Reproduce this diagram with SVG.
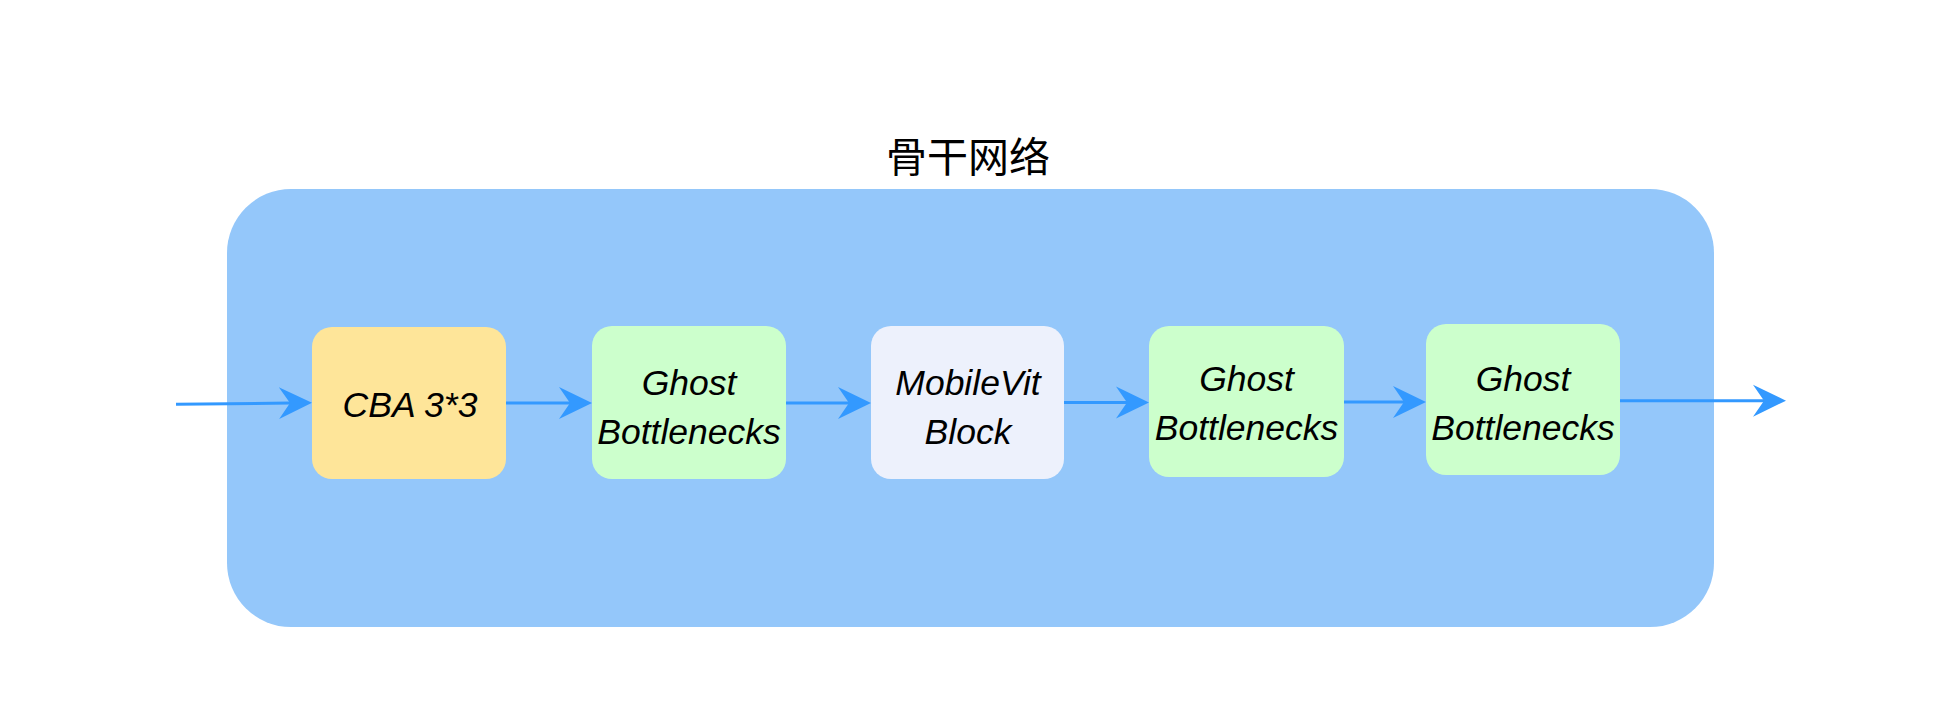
<svg xmlns="http://www.w3.org/2000/svg" width="1959" height="719" viewBox="0 0 1959 719">
  <style>
    .lbl { font-family: "Liberation Sans", Arial, Helvetica, sans-serif; font-style: italic; font-size: 35.5px; fill: #000000; text-anchor: middle; }
    .title { font-family: "Noto Sans CJK SC", "Noto Sans", sans-serif; font-size: 41px; fill: #000000; text-anchor: middle; }
    .conn { stroke: #3399FF; stroke-width: 3; fill: none; marker-end: url(#arrow); }
  </style>
  <defs>
    <marker id="arrow" markerUnits="userSpaceOnUse" markerWidth="34" markerHeight="34" refX="11" refY="16" orient="auto" overflow="visible">
      <path d="M0,0 L33,16 L0,32 L11,16 Z" fill="#3399FF"/>
    </marker>
  </defs>
  <rect width="1959" height="719" fill="#FFFFFF"/>

  <g id="backbone">
    <rect x="227" y="189" width="1487" height="438" rx="64" ry="64" fill="#94C7FA"/>
    <text class="title" x="968" y="172">骨干网络</text>
  </g>

  <g id="connectors">
    <path class="conn" d="M176,404.3 L290,403"/>
    <path class="conn" d="M506,403 L570,403"/>
    <path class="conn" d="M786,403 L849,403"/>
    <path class="conn" d="M1064,402.5 L1127,402.5"/>
    <path class="conn" d="M1344,402 L1404,402"/>
    <path class="conn" d="M1620,400.7 L1764,400.7"/>
  </g>

  <g id="cba">
    <rect x="312" y="327" width="194" height="152" rx="20" ry="20" fill="#FEE599"/>
    <text class="lbl" x="410" y="416.7">CBA 3*3</text>
  </g>

  <g id="ghost1">
    <rect x="592" y="326" width="194" height="153" rx="20" ry="20" fill="#CCFFCC"/>
    <text class="lbl" x="689" y="394.5">Ghost</text>
    <text class="lbl" x="689" y="443.5">Bottlenecks</text>
  </g>

  <g id="mobilevit">
    <rect x="871" y="326" width="193" height="153" rx="20" ry="20" fill="#EDF1FC"/>
    <text class="lbl" x="968" y="394.5">MobileVit</text>
    <text class="lbl" x="968" y="443.5">Block</text>
  </g>

  <g id="ghost2">
    <rect x="1149" y="326" width="195" height="151" rx="20" ry="20" fill="#CCFFCC"/>
    <text class="lbl" x="1246.5" y="390.7">Ghost</text>
    <text class="lbl" x="1246.5" y="440">Bottlenecks</text>
  </g>

  <g id="ghost3">
    <rect x="1426" y="324" width="194" height="151" rx="20" ry="20" fill="#CCFFCC"/>
    <text class="lbl" x="1523" y="390.7">Ghost</text>
    <text class="lbl" x="1523" y="440">Bottlenecks</text>
  </g>
</svg>
